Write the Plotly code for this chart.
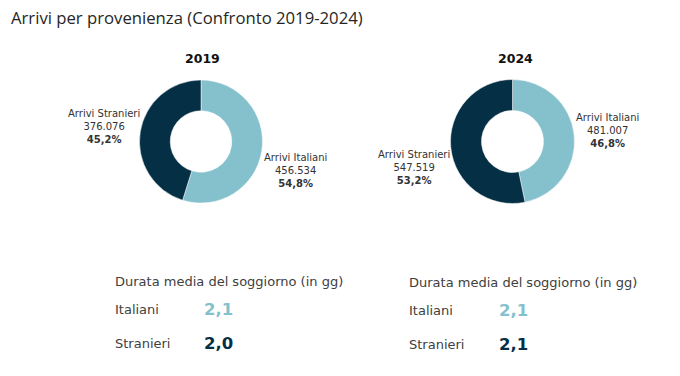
import plotly.graph_objects as go

# ---- data ----
years = ["2019", "2024"]
categories = ["Arrivi Italiani", "Arrivi Stranieri"]
arrivi_2019 = [456534, 376076]
arrivi_2024 = [481007, 547519]
durata_labels = ["Italiani", "Stranieri"]
durata_2019 = [2.1, 2.0]
durata_2024 = [2.1, 2.1]

title_text = "Arrivi per provenienza (Confronto 2019-2024)"
durata_title = "Durata media del soggiorno (in gg)"

W, H = 680, 376
LIGHT = "#84C1CD"
DARK = "#042F45"
TXT = "#333333"
FONT = "DejaVu Sans, Verdana, sans-serif"


def px(x, y):
    return x / W, 1 - y / H


def it_int(v):
    return f"{v:,}".replace(",", ".")


def it_dec(v, d=1):
    return f"{v:.{d}f}".replace(".", ",")


fig = go.Figure()

pies = [
    (arrivi_2019, (201, 141.5, 61.5)),
    (arrivi_2024, (512.5, 141.5, 62)),
]
for vals, (cx, cy, r) in pies:
    x0, y1 = px(cx - r, cy - r)
    x1, y0 = px(cx + r, cy + r)
    fig.add_trace(go.Pie(
        labels=categories, values=vals, hole=0.5, sort=False,
        direction="clockwise", rotation=0, textinfo="none",
        marker=dict(colors=[LIGHT, DARK], line=dict(color="white", width=0.5)),
        domain=dict(x=[x0, x1], y=[y0, y1]), showlegend=False,
        hoverinfo="label+value+percent",
    ))

annotations = []


def ann(x, y, text, size, color=TXT, xanchor="center", family=FONT):
    ax, ay = px(x, y)
    annotations.append(dict(x=ax, y=ay, xref="paper", yref="paper", text=text,
                            showarrow=False, xanchor=xanchor, yanchor="middle",
                            font=dict(family=family, size=size, color=color)))


ann(9, 18, title_text, 16.7, color="#262626", xanchor="left",
    family="Open Sans, Lato, sans-serif")

# year titles
ann(202, 58, f"<b>{years[0]}</b>", 12.5, color="#111111")
ann(515, 58, f"<b>{years[1]}</b>", 12.5, color="#111111")


def label_text(name, v, total):
    return f"{name}<br>{it_int(v)}<br><b>{it_dec(100 * v / total)}%</b>"


t19 = sum(arrivi_2019)
t24 = sum(arrivi_2024)
ann(104, 127, label_text(categories[1], arrivi_2019[1], t19), 10)
ann(295, 170, label_text(categories[0], arrivi_2019[0], t19), 10)
ann(607, 130, label_text(categories[0], arrivi_2024[0], t24), 10)
ann(414, 167, label_text(categories[1], arrivi_2024[1], t24), 10)

# durata blocks
for (lx, vx, ty, vals) in [(113, 202, 281, durata_2019), (407, 497, 282, durata_2024)]:
    ann(lx, ty, durata_title, 13, color="#404040", xanchor="left")
    ann(lx, ty + 28, durata_labels[0], 13, color="#404040", xanchor="left")
    ann(lx, ty + 62, durata_labels[1], 13, color="#404040", xanchor="left")
    ann(vx, ty + 28, f"<b>{it_dec(vals[0])}</b>", 16.5, color=LIGHT, xanchor="left")
    ann(vx, ty + 62, f"<b>{it_dec(vals[1])}</b>", 16.5, color=DARK, xanchor="left")

fig.update_layout(
    width=W, height=H, margin=dict(l=0, r=0, t=0, b=0),
    paper_bgcolor="white", plot_bgcolor="white",
    annotations=annotations,
)

fig.write_html("out.html", config={"displayModeBar": False},
               post_script="document.body.style.margin='0';document.body.style.padding='0';")
